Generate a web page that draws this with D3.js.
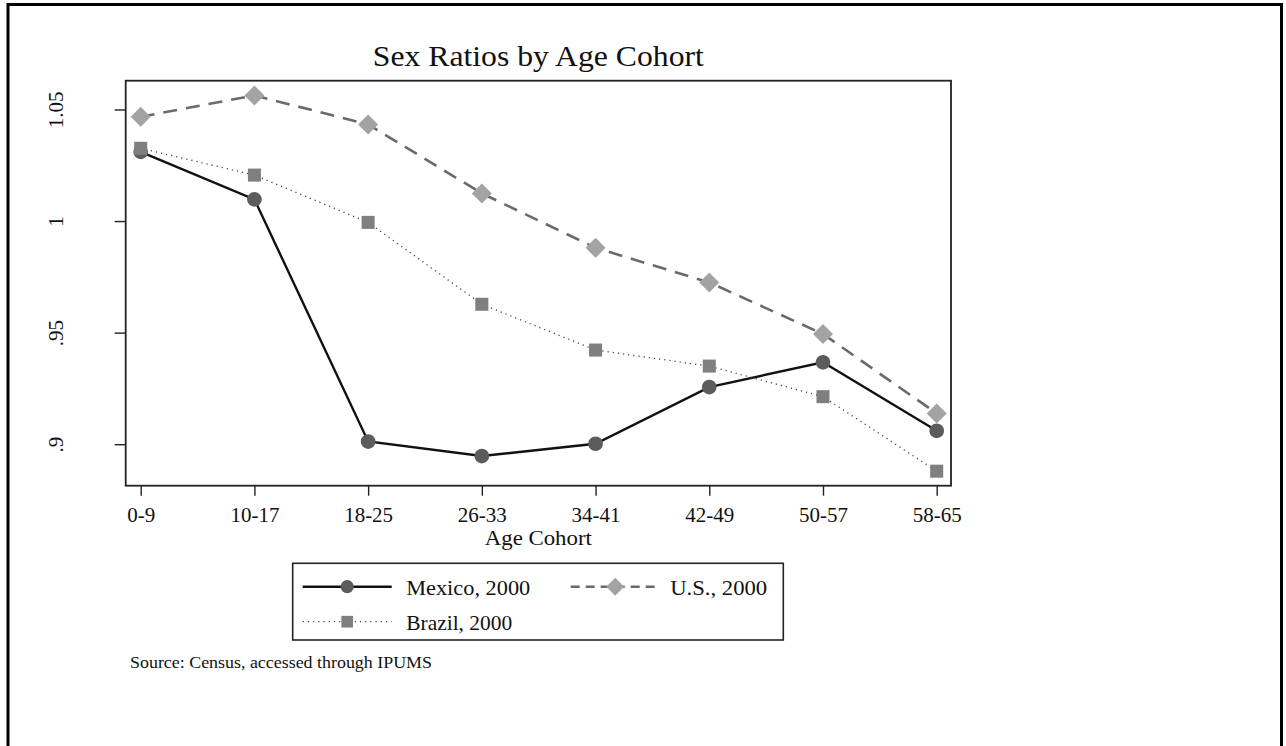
<!DOCTYPE html>
<html>
<head>
<meta charset="utf-8">
<script src="https://cdn.jsdelivr.net/npm/d3@7"></script>
<style>
  body { margin: 0; background: #fff; }
  svg { display: block; }
  text { font-family: "Liberation Serif", "DejaVu Serif", serif; fill: #111; }
</style>
</head>
<body>
<svg id="chart" width="1286" height="746"></svg>
<script>
const cohorts = ["0-9", "10-17", "18-25", "26-33", "34-41", "42-49", "50-57", "58-65"];
const mexico = [1.031, 1.0097, 0.9012, 0.8947, 0.9002, 0.9256, 0.9367, 0.906];
const us = [1.0467, 1.0563, 1.0433, 1.0124, 0.988, 0.9725, 0.9494, 0.9138];
const brazil = [1.0326, 1.0206, 0.9994, 0.9627, 0.9422, 0.935, 0.9213, 0.8879];
const yTicks = [0.9, 0.95, 1, 1.05];
const yTickLabels = [".9", ".95", "1", "1.05"];

const svg = d3.select("#chart");

// outer frame
svg.append("rect")
  .attr("x", 8).attr("y", 4.5)
  .attr("width", 1273.5).attr("height", 760)
  .attr("fill", "none").attr("stroke", "#000").attr("stroke-width", 3);

const plotL = 125.7, plotR = 951, plotT = 80.7, plotB = 485.7;

const x = d3.scalePoint().domain(cohorts).range([140.7, 936.7]);
const y = d3.scaleLinear().domain([0.8814, 1.0629]).range([plotB, plotT]);

// plot box
svg.append("rect")
  .attr("x", plotL).attr("y", plotT)
  .attr("width", plotR - plotL).attr("height", plotB - plotT)
  .attr("fill", "none").attr("stroke", "#222").attr("stroke-width", 1.8);

// y axis
const yAxis = svg.append("g")
  .attr("transform", `translate(${plotL},0)`)
  .call(d3.axisLeft(y).tickValues(yTicks).tickSize(11).tickFormat((d, i) => yTickLabels[i]));
yAxis.select(".domain").remove();
yAxis.selectAll(".tick line").attr("stroke", "#222").attr("stroke-width", 1.4);
yAxis.selectAll(".tick text")
  .attr("x", 0).attr("y", 0).attr("dy", 0)
  .attr("transform", "translate(-70,0) rotate(-90)")
  .attr("text-anchor", "middle")
  .attr("dominant-baseline", "central")
  .attr("fill", "#111")
  .style("font-size", "21px")
  .style("font-family", "Liberation Serif, serif");

// x axis
const xAxis = svg.append("g")
  .attr("transform", `translate(0,${plotB})`)
  .call(d3.axisBottom(x).tickSize(10).tickPadding(0));
xAxis.select(".domain").remove();
xAxis.selectAll(".tick line").attr("stroke", "#222").attr("stroke-width", 1.4);
xAxis.selectAll(".tick text")
  .attr("y", 36).attr("dy", 0)
  .attr("fill", "#111")
  .style("font-size", "21px")
  .style("font-family", "Liberation Serif, serif");

svg.append("text")
  .attr("x", (plotL + plotR) / 2).attr("y", 545)
  .attr("text-anchor", "middle")
  .attr("textLength", 107).attr("lengthAdjust", "spacingAndGlyphs")
  .style("font-size", "22px")
  .text("Age Cohort");

svg.append("text")
  .attr("x", (plotL + plotR) / 2).attr("y", 66)
  .attr("text-anchor", "middle")
  .attr("textLength", 331).attr("lengthAdjust", "spacingAndGlyphs")
  .style("font-size", "30px")
  .text("Sex Ratios by Age Cohort");

const series = [
  { name: "Mexico, 2000", values: mexico, stroke: "#111", width: 2.4, dash: null, legendDash: null, shape: d3.symbolCircle, size: 170, rot: 0, fill: "#5c5c5c", textLen: 124, textX: 103.5 },
  { name: "U.S., 2000", values: us, stroke: "#6a6a6a", width: 2.6, dash: "14,9", legendDash: "9,6", shape: d3.symbolSquare, size: 200, rot: 45, fill: "#a3a3a3", textLen: 97, textX: 99.5 },
  { name: "Brazil, 2000", values: brazil, stroke: "#444", width: 1.3, dash: "1.2,4", legendDash: "1.2,4", shape: d3.symbolSquare, size: 170, rot: 0, fill: "#7f7f7f", textLen: 106, textX: 103.5 }
];

const line = d3.line().x((d, i) => x(cohorts[i])).y(d => y(d));

const drawOrder = [series[1], series[0], series[2]];
drawOrder.forEach(s => {
  svg.append("path")
    .datum(s.values)
    .attr("d", line)
    .attr("fill", "none")
    .attr("stroke", s.stroke)
    .attr("stroke-width", s.width)
    .attr("stroke-dasharray", s.dash);
});
drawOrder.forEach(s => {
  svg.selectAll(null)
    .data(s.values)
    .enter()
    .append("path")
    .attr("d", d3.symbol().type(s.shape).size(s.size))
    .attr("transform", (d, i) => `translate(${x(cohorts[i])},${y(d)}) rotate(${s.rot})`)
    .attr("fill", s.fill);
});

// legend
const legend = svg.append("g");
legend.append("rect")
  .attr("x", 292.7).attr("y", 563.3)
  .attr("width", 490.6).attr("height", 76.7)
  .attr("fill", "#fff").attr("stroke", "#222").attr("stroke-width", 1.6);

const legendPos = [
  { lx: 302.7, ly: 586.7 },
  { lx: 570.7, ly: 586.7 },
  { lx: 302.7, ly: 621.7 }
];
series.forEach((s, i) => {
  const p = legendPos[i];
  const g = legend.append("g").attr("transform", `translate(${p.lx},${p.ly})`);
  g.append("line")
    .attr("x1", 0).attr("x2", 89).attr("y1", 0).attr("y2", 0)
    .attr("stroke", s.stroke)
    .attr("stroke-width", s.width)
    .attr("stroke-dasharray", s.legendDash);
  g.append("path")
    .attr("d", d3.symbol().type(s.shape).size(s.size * 0.8))
    .attr("transform", `translate(44.5,0) rotate(${s.rot})`)
    .attr("fill", s.fill);
  g.append("text")
    .attr("x", s.textX).attr("y", 1)
    .attr("dominant-baseline", "central")
    .attr("textLength", s.textLen).attr("lengthAdjust", "spacingAndGlyphs")
    .style("font-size", "22px")
    .text(s.name);
});

svg.append("text")
  .attr("x", 130).attr("y", 668)
  .attr("textLength", 302).attr("lengthAdjust", "spacingAndGlyphs")
  .style("font-size", "16px")
  .text("Source: Census, accessed through IPUMS");
</script>
</body>
</html>
